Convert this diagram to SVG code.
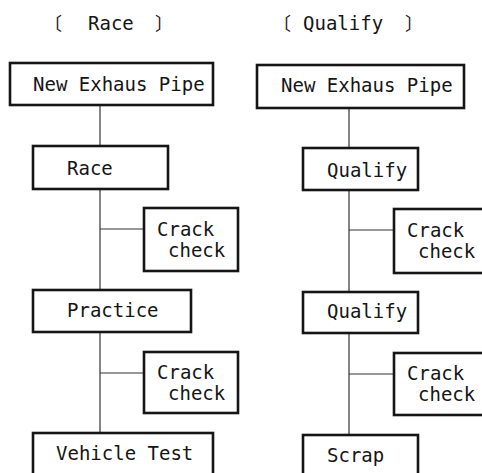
<svg xmlns="http://www.w3.org/2000/svg" width="482" height="473" viewBox="0 0 482 473">
<style>
  .box { fill: #ffffff; stroke: #151515; stroke-width: 2.6; }
  .conn { stroke: #333333; stroke-width: 1.2; fill: none; }
  text { font-family: "DejaVu Sans Mono", "Noto Sans CJK JP", monospace; font-size: 19px; fill: #151515; }
  .br { font-family: "Noto Sans CJK JP", sans-serif; font-size: 18px; }
</style>
<rect width="482" height="473" fill="#ffffff"/>
<g id="connectors">
  <line class="conn" x1="100" y1="105" x2="100" y2="146"/>
  <line class="conn" x1="100" y1="189" x2="100" y2="290"/>
  <line class="conn" x1="100" y1="229" x2="144" y2="229"/>
  <line class="conn" x1="100" y1="332" x2="100" y2="433"/>
  <line class="conn" x1="100" y1="373" x2="144" y2="373"/>
  <line class="conn" x1="349" y1="108" x2="349" y2="148"/>
  <line class="conn" x1="349" y1="190" x2="349" y2="292"/>
  <line class="conn" x1="349" y1="230" x2="394" y2="230"/>
  <line class="conn" x1="349" y1="333" x2="349" y2="435"/>
  <line class="conn" x1="349" y1="374" x2="394" y2="374"/>
</g>
<g id="title-race">
  <text y="30"><tspan class="br" x="44">〔</tspan><tspan x="88">Race</tspan><tspan class="br" x="155">〕</tspan></text>
</g>
<g id="title-qualify">
  <text y="30"><tspan class="br" x="273">〔</tspan><tspan x="303">Qualify</tspan><tspan class="br" x="405">〕</tspan></text>
</g>
<g id="race-new-pipe">
  <rect class="box" x="10" y="63" width="203" height="42"/>
  <text x="33" y="91">New Exhaus Pipe</text>
</g>
<g id="race-race">
  <rect class="box" x="33" y="146" width="135" height="43"/>
  <text x="67" y="175">Race</text>
</g>
<g id="race-crack1">
  <rect class="box" x="144" y="208" width="94" height="63"/>
  <text x="157" y="236">Crack</text>
  <text x="168" y="257">check</text>
</g>
<g id="race-practice">
  <rect class="box" x="33" y="290" width="158" height="42"/>
  <text x="67" y="317">Practice</text>
</g>
<g id="race-crack2">
  <rect class="box" x="144" y="352" width="94" height="61"/>
  <text x="157" y="379">Crack</text>
  <text x="168" y="400">check</text>
</g>
<g id="race-vehicle-test">
  <rect class="box" x="33" y="433" width="180" height="50"/>
  <text x="56" y="460">Vehicle Test</text>
</g>
<g id="qual-new-pipe">
  <rect class="box" x="257" y="65" width="207" height="43"/>
  <text x="281" y="92">New Exhaus Pipe</text>
</g>
<g id="qual-qualify1">
  <rect class="box" x="303" y="148" width="115" height="42"/>
  <text x="327" y="177">Qualify</text>
</g>
<g id="qual-crack1">
  <rect class="box" x="394" y="209" width="100" height="64"/>
  <text x="407" y="237">Crack</text>
  <text x="418" y="258">check</text>
</g>
<g id="qual-qualify2">
  <rect class="box" x="303" y="292" width="115" height="41"/>
  <text x="327" y="318">Qualify</text>
</g>
<g id="qual-crack2">
  <rect class="box" x="394" y="353" width="100" height="62"/>
  <text x="407" y="380">Crack</text>
  <text x="418" y="401">check</text>
</g>
<g id="qual-scrap">
  <rect class="box" x="303" y="435" width="115" height="50"/>
  <text x="327" y="462">Scrap</text>
</g>
</svg>
